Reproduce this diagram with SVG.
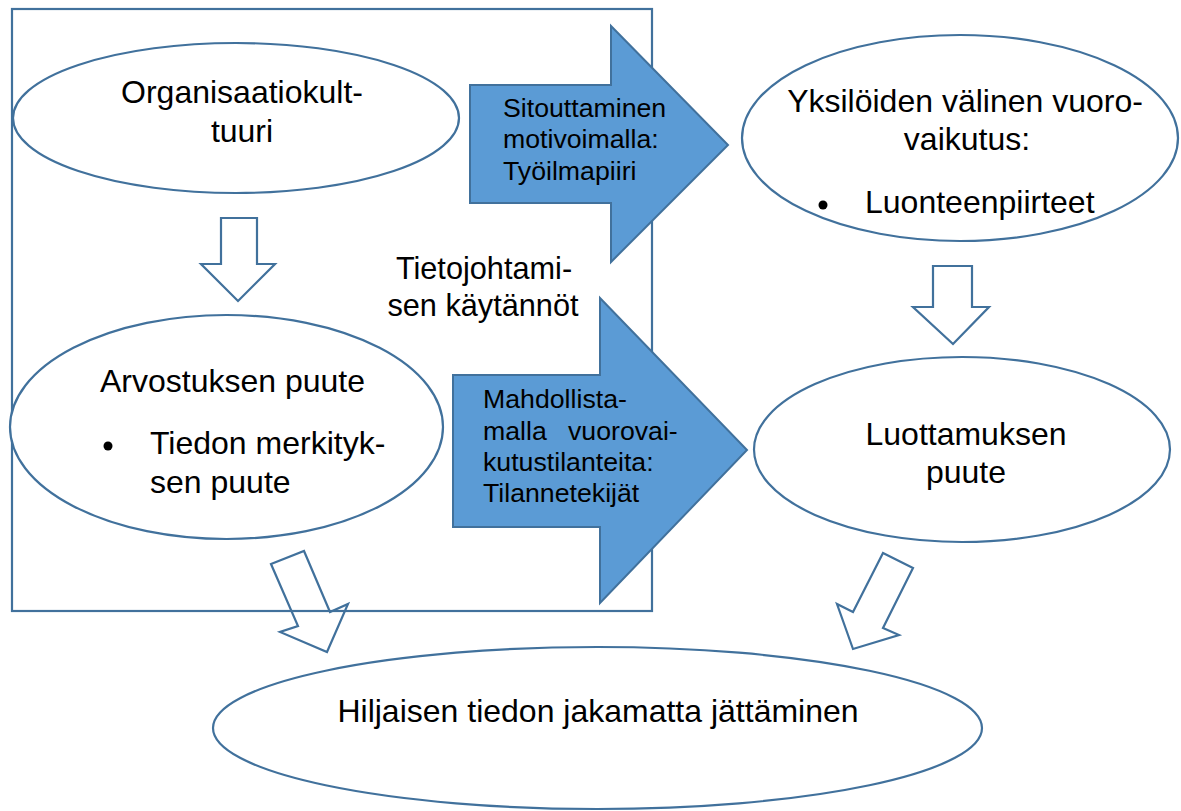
<svg xmlns="http://www.w3.org/2000/svg" width="1181" height="811" viewBox="0 0 1181 811">
<style>
.ol{fill:#fff;stroke:#41719C;stroke-width:2.2}
.frame{fill:none;stroke:#41719C;stroke-width:2.2}
.blue{fill:#5B9BD5;stroke:#41719C;stroke-width:2}
.t{font-family:"Liberation Sans",Arial,sans-serif;font-size:32px;fill:#000}
.ta{font-family:"Liberation Sans",Arial,sans-serif;font-size:26.7px;fill:#000}
.tm{font-family:"Liberation Sans",Arial,sans-serif;font-size:30.7px;fill:#000}
</style>
<rect width="1181" height="811" fill="#fff"/>
<g id="connectors">
<polygon class="ol" points="221,218 257,218 257,264 275,264 238,301 201,264 221,264"/>
<polygon class="ol" points="933,266 972,266 972,307 989,307 953,344 913,307 933,307"/>
<polygon class="ol" fill="none" style="fill:none" points="271,564 304,551 330,612 348,604 327,652 280,632 298,626"/>
<polygon class="ol" style="fill:none" points="883,553 913,568 883,628 899,635 853,649 837,604 853,612"/>
</g>
<g id="frame">
<rect class="frame" x="12" y="9" width="640" height="602"/>
<text class="tm" text-anchor="middle"><tspan x="484" y="279">Tietojohtami-</tspan><tspan x="483" y="316">sen käytännöt</tspan></text>
</g>
<g id="organisaatiokulttuuri">
<ellipse class="ol" cx="236" cy="118" rx="223" ry="75"/>
<text class="t" text-anchor="middle"><tspan x="242" y="103">Organisaatiokult-</tspan><tspan x="242" y="142">tuuri</tspan></text>
</g>
<g id="arvostuksen-puute">
<ellipse class="ol" cx="226.5" cy="427" rx="216.5" ry="112"/>
<text class="t"><tspan x="100" y="392">Arvostuksen puute</tspan><tspan x="150" y="454">Tiedon merkityk-</tspan><tspan x="150" y="493">sen puute</tspan></text>
<circle cx="108" cy="446" r="4.5" fill="#000"/>
</g>
<g id="yksiloiden-vuorovaikutus">
<ellipse class="ol" cx="960" cy="138" rx="218" ry="103"/>
<text class="t" text-anchor="middle"><tspan x="965" y="112">Yksilöiden välinen vuoro-</tspan><tspan x="967" y="150">vaikutus:</tspan></text>
<text class="t" x="865" y="213">Luonteenpiirteet</text>
<circle cx="823" cy="205" r="4.5" fill="#000"/>
</g>
<g id="luottamuksen-puute">
<ellipse class="ol" cx="962" cy="449.5" rx="208" ry="92.5"/>
<text class="t" text-anchor="middle"><tspan x="966" y="445">Luottamuksen</tspan><tspan x="966" y="483">puute</tspan></text>
</g>
<g id="hiljaisen-tiedon">
<ellipse class="ol" cx="597.5" cy="728" rx="384.5" ry="81"/>
<text class="t" text-anchor="middle" x="598" y="722">Hiljaisen tiedon jakamatta jättäminen</text>
</g>
<g id="sitouttaminen">
<polygon class="blue" points="470,85 611,85 611,26 728,145 611,262 611,203 470,203"/>
<text class="ta"><tspan x="503" y="117">Sitouttaminen</tspan><tspan x="503" y="148">motivoimalla:</tspan><tspan x="503" y="180">Työilmapiiri</tspan></text>
</g>
<g id="mahdollistamalla">
<polygon class="blue" points="453,375 600,375 600,298 747,450 600,603 600,527 453,527"/>
<text class="ta"><tspan x="483" y="408">Mahdollista-</tspan><tspan x="483" y="440">malla</tspan><tspan x="568" y="440">vuorovai-</tspan><tspan x="483" y="471">kutustilanteita:</tspan><tspan x="483" y="502">Tilannetekijät</tspan></text>
</g>
</svg>
